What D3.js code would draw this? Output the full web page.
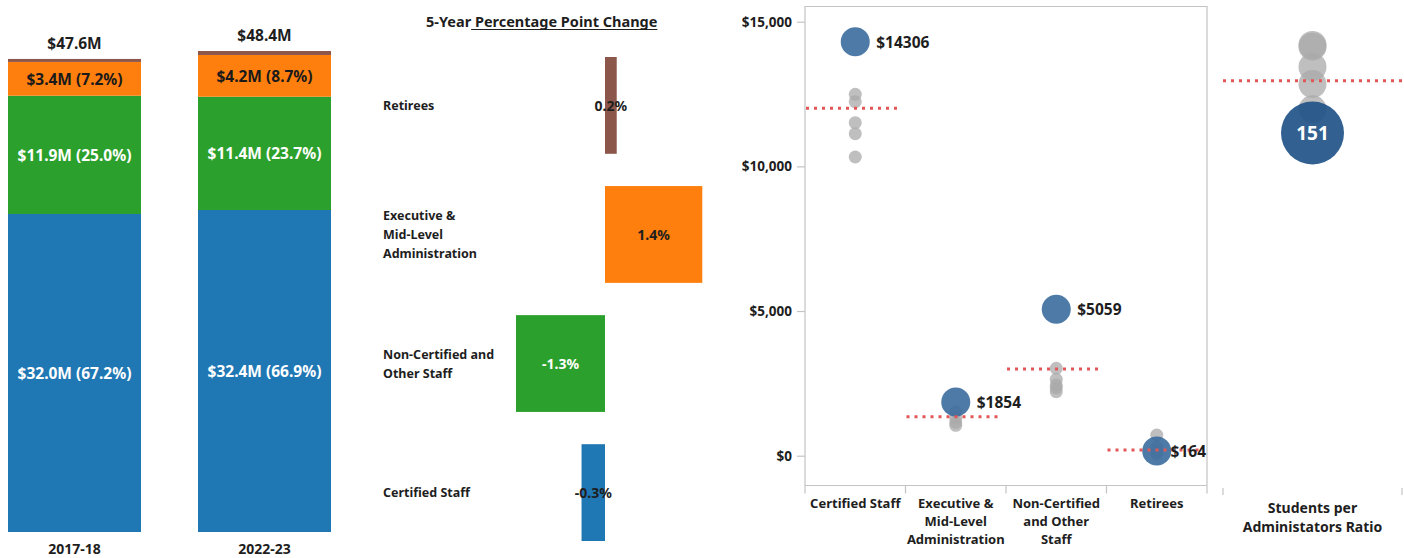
<!DOCTYPE html>
<html>
<head>
<meta charset="utf-8">
<script src="https://cdn.jsdelivr.net/npm/d3@7"></script>
<style>
  body { margin: 0; background: #fff; }
  svg { display: block; font-family: "Noto Sans", sans-serif; font-weight: 700; }
</style>
</head>
<body>
<svg id="chart" width="1404" height="558"></svg>
<script>
// stacked spending bars
const years = ['2017-18', '2022-23'];
const groups = ['Certified Staff', 'Non-Certified and Other Staff', 'Executive & Mid-Level Administration', 'Retirees'];
const spend1718 = [32.0, 11.9, 3.4, 0.3];
const spend2223 = [32.4, 11.4, 4.2, 0.4];
const share1718 = [67.2, 25.0, 7.2, 0.6];
const share2223 = [66.9, 23.7, 8.7, 0.7];
const totals = [47.6, 48.4];

// 5-year percentage point change
const changeCats = ['Retirees', 'Executive & Mid-Level Administration', 'Non-Certified and Other Staff', 'Certified Staff'];
const changeLines = [['Retirees'], ['Executive &', 'Mid-Level', 'Administration'], ['Non-Certified and', 'Other Staff'], ['Certified Staff']];
const ppChange = [0.17, 1.41, -1.29, -0.34];

// per pupil spending, district vs peers
const perPupilCats = ['Certified Staff', 'Executive & Mid-Level Administration', 'Non-Certified and Other Staff', 'Retirees'];
const perPupilLines = [['Certified Staff'], ['Executive &', 'Mid-Level', 'Administration'], ['Non-Certified', 'and Other', 'Staff'], ['Retirees']];
const districtPerPupil = [14306, 1854, 5059, 164];
const peerPerPupil = [
  [12491, 12235, 11509, 11129, 10324],
  [1521, 1300, 1150, 1050],
  [3020, 2640, 2445, 2340, 2212],
  [715, 300, 150, 60]
];
const peerAvg = [12007, 1348, 2997, 197];

// students per administrators
const districtRatio = 151;
const peerRatios = [259, 257, 232, 211, 180];
const peerRatioAvg = 215;

const colors = d3.scaleOrdinal().domain(groups).range(['#1f77b4', '#2ca02c', '#ff7f0e', '#8c564b']);
const labelFill = {'Certified Staff': '#fff', 'Non-Certified and Other Staff': '#fff', 'Executive & Mid-Level Administration': '#1a1a1a', 'Retirees': '#1a1a1a'};
const ink = '#1e1e1e';
const red = '#e15759';
const frame = '#c4c4c4';

const svg = d3.select('#chart');

// ---------- stacked bars ----------
const rows = years.map((yr, i) => {
  const o = {year: yr};
  const v = i === 0 ? spend1718 : spend2223;
  const s = i === 0 ? share1718 : share2223;
  groups.forEach((g, j) => { o[g] = v[j]; o[g + '_s'] = s[j]; });
  return o;
});
const stacked = d3.stack().keys(groups)(rows);

const xYear = d3.scaleBand().domain(years).range([8, 331]).paddingInner(0.3).paddingOuter(0);
const ySpend = d3.scaleLinear().domain([0, 48.4]).range([532, 51]);

const gBars = svg.append('g');
stacked.forEach(layer => {
  gBars.selectAll(null)
    .data(layer)
    .enter().append('rect')
    .attr('x', d => xYear(d.data.year))
    .attr('y', d => ySpend(d[1]))
    .attr('width', xYear.bandwidth())
    .attr('height', d => ySpend(d[0]) - ySpend(d[1]))
    .attr('fill', colors(layer.key));

  gBars.selectAll(null)
    .data(layer.filter(d => ySpend(d[0]) - ySpend(d[1]) > 20))
    .enter().append('text')
    .attr('x', d => xYear(d.data.year) + xYear.bandwidth() / 2)
    .attr('y', d => (ySpend(d[0]) + ySpend(d[1])) / 2)
    .attr('text-anchor', 'middle')
    .attr('dominant-baseline', 'central')
    .attr('font-size', 15.5)
    .attr('fill', labelFill[layer.key])
    .text(d => `$${d.data[layer.key].toFixed(1)}M (${d.data[layer.key + '_s'].toFixed(1)}%)`);
});

gBars.selectAll('.total')
  .data(years)
  .enter().append('text')
  .attr('x', d => xYear(d) + xYear.bandwidth() / 2)
  .attr('y', (d, i) => ySpend(totals[i]) - 16)
  .attr('text-anchor', 'middle')
  .attr('dominant-baseline', 'central')
  .attr('font-size', 15.5)
  .attr('fill', ink)
  .text((d, i) => `$${totals[i].toFixed(1)}M`);

gBars.selectAll('.year')
  .data(years)
  .enter().append('text')
  .attr('x', d => xYear(d) + xYear.bandwidth() / 2)
  .attr('y', 548)
  .attr('text-anchor', 'middle')
  .attr('dominant-baseline', 'central')
  .attr('font-size', 14)
  .attr('fill', ink)
  .text(d => d);

// ---------- percentage point change ----------
const xChange = d3.scaleLinear().domain([-1.5, 1.5]).range([501.5, 708.5]);
const yChange = d3.scaleBand().domain(changeCats).range([57, 541]).paddingInner(0.25).paddingOuter(0);
const changeColor = {'Retirees': '#8c564b', 'Executive & Mid-Level Administration': '#ff7f0e', 'Non-Certified and Other Staff': '#2ca02c', 'Certified Staff': '#1f77b4'};

const gChange = svg.append('g');
const title = gChange.append('text')
  .attr('x', 426).attr('y', 27)
  .attr('font-size', 14.5)
  .attr('fill', ink);
title.append('tspan').text('5-Year');
title.append('tspan').text(' Percentage Point Change');
const tNode = title.node();
const uStart = 426 + tNode.getSubStringLength(0, 6);
const uEnd = 426 + tNode.getComputedTextLength();
gChange.append('line')
  .attr('x1', uStart).attr('x2', uEnd)
  .attr('y1', 29.5).attr('y2', 29.5)
  .attr('stroke', ink).attr('stroke-width', 1.2);

gChange.selectAll('rect')
  .data(changeCats)
  .enter().append('rect')
  .attr('x', (d, i) => xChange(Math.min(0, ppChange[i])))
  .attr('y', d => yChange(d))
  .attr('width', (d, i) => Math.abs(xChange(ppChange[i]) - xChange(0)))
  .attr('height', yChange.bandwidth())
  .attr('fill', d => changeColor[d]);

gChange.selectAll('.val')
  .data(changeCats)
  .enter().append('text')
  .attr('x', (d, i) => (xChange(ppChange[i]) + xChange(0)) / 2)
  .attr('y', d => yChange(d) + yChange.bandwidth() / 2)
  .attr('text-anchor', 'middle')
  .attr('dominant-baseline', 'central')
  .attr('font-size', 14)
  .attr('fill', d => d === 'Non-Certified and Other Staff' ? '#fff' : ink)
  .text((d, i) => ppChange[i].toFixed(1) + '%');

changeCats.forEach((c, i) => {
  const lines = changeLines[i];
  const cy = yChange(c) + yChange.bandwidth() / 2;
  gChange.append('text')
    .attr('font-size', 12.5)
    .attr('fill', ink)
    .selectAll('tspan')
    .data(lines)
    .enter().append('tspan')
    .attr('x', 383)
    .attr('y', (d, k) => cy + (k - (lines.length - 1) / 2) * 19)
    .attr('dominant-baseline', 'central')
    .text(d => d);
});

// ---------- per pupil scatter ----------
const xPP = d3.scaleBand().domain(perPupilCats).range([805, 1207]);
const yPP = d3.scaleLinear().domain([0, 15000]).range([455.7, 21.7]);
const plotTop = 6.5, plotBottom = 485.5;

const gPP = svg.append('g');
gPP.append('path')
  .attr('d', `M805,${plotBottom}V${plotTop}H1207V${plotBottom}`)
  .attr('fill', 'none').attr('stroke', frame).attr('stroke-width', 1.2);
gPP.append('line')
  .attr('x1', 805).attr('x2', 1207).attr('y1', plotBottom).attr('y2', plotBottom)
  .attr('stroke', frame).attr('stroke-width', 1.2);
const bounds = perPupilCats.map(c => xPP(c)).concat([xPP.range()[1]]);
gPP.selectAll('.btick')
  .data(bounds)
  .enter().append('line')
  .attr('x1', d => d).attr('x2', d => d)
  .attr('y1', plotBottom).attr('y2', plotBottom + 8)
  .attr('stroke', frame).attr('stroke-width', 1.2);

const yAxis = gPP.append('g')
  .attr('transform', 'translate(805,0)')
  .call(d3.axisLeft(yPP).tickValues([0, 5000, 10000, 15000]).tickSize(8).tickPadding(5)
    .tickFormat(d => '$' + d3.format(',')(d)));
yAxis.select('.domain').remove();
yAxis.selectAll('line').attr('stroke', frame).attr('stroke-width', 1.2);
yAxis.selectAll('text')
  .attr('font-family', '"Noto Sans", sans-serif')
  .attr('font-weight', 700)
  .attr('font-size', 13.5)
  .attr('fill', ink);

perPupilCats.forEach((c, i) => {
  const lines = perPupilLines[i];
  gPP.append('text')
    .attr('font-size', 13)
    .attr('fill', ink)
    .attr('text-anchor', 'middle')
    .selectAll('tspan')
    .data(lines)
    .enter().append('tspan')
    .attr('x', xPP(c) + xPP.bandwidth() / 2)
    .attr('y', (d, k) => 503 + k * 18)
    .attr('dominant-baseline', 'central')
    .text(d => d);
});

const peerFlat = peerPerPupil.flatMap((vals, i) => vals.map(v => ({cat: perPupilCats[i], v})));
gPP.selectAll('.peer')
  .data(peerFlat)
  .enter().append('circle')
  .attr('cx', d => xPP(d.cat) + xPP.bandwidth() / 2)
  .attr('cy', d => yPP(d.v))
  .attr('r', 6.5)
  .attr('fill', '#aaaaaa')
  .attr('fill-opacity', 0.75);

gPP.selectAll('.dist')
  .data(perPupilCats)
  .enter().append('circle')
  .attr('cx', d => xPP(d) + xPP.bandwidth() / 2)
  .attr('cy', (d, i) => yPP(districtPerPupil[i]))
  .attr('r', 14.5)
  .attr('fill', '#3a6b9c')
  .attr('fill-opacity', 0.9);

gPP.selectAll('.avg')
  .data(perPupilCats)
  .enter().append('line')
  .attr('x1', d => xPP(d) + 1)
  .attr('x2', d => xPP(d) + xPP.bandwidth() - 4)
  .attr('y1', (d, i) => yPP(peerAvg[i]))
  .attr('y2', (d, i) => yPP(peerAvg[i]))
  .attr('stroke', red)
  .attr('stroke-width', 3)
  .attr('stroke-dasharray', '3,5');

gPP.selectAll('.lab')
  .data(perPupilCats)
  .enter().append('text')
  .attr('y', (d, i) => yPP(districtPerPupil[i]))
  .attr('dominant-baseline', 'central')
  .attr('font-size', 15.5)
  .attr('fill', ink)
  .text((d, i) => '$' + districtPerPupil[i])
  .attr('x', function (d) {
    const w = this.getComputedTextLength();
    return Math.min(xPP(d) + xPP.bandwidth() / 2 + 21, 1206 - w);
  });

// ---------- students per administrators ----------
const xRatio = d3.scaleBand().domain(['Students per Administators Ratio']).range([1223, 1402]);
const yRatio = d3.scaleLinear().domain([151, 259]).range([133, 45]);
const rcx = xRatio('Students per Administators Ratio') + xRatio.bandwidth() / 2;

const gR = svg.append('g');
gR.selectAll('.rtick')
  .data(xRatio.range())
  .enter().append('line')
  .attr('x1', d => d).attr('x2', d => d)
  .attr('y1', 488).attr('y2', 495)
  .attr('stroke', frame).attr('stroke-width', 1.2);

gR.selectAll('.rpeer')
  .data(peerRatios)
  .enter().append('circle')
  .attr('cx', rcx)
  .attr('cy', d => yRatio(d))
  .attr('r', 14)
  .attr('fill', '#aaaaaa')
  .attr('fill-opacity', 0.75);

gR.append('circle')
  .attr('cx', rcx)
  .attr('cy', yRatio(districtRatio))
  .attr('r', 31.5)
  .attr('fill', '#1f5288')
  .attr('fill-opacity', 0.92);

gR.append('line')
  .attr('x1', 1223).attr('x2', 1404)
  .attr('y1', yRatio(peerRatioAvg)).attr('y2', yRatio(peerRatioAvg))
  .attr('stroke', red)
  .attr('stroke-width', 3)
  .attr('stroke-dasharray', '3,5');

gR.append('text')
  .attr('x', rcx)
  .attr('y', yRatio(districtRatio))
  .attr('text-anchor', 'middle')
  .attr('dominant-baseline', 'central')
  .attr('font-size', 19)
  .attr('fill', '#fff')
  .text(districtRatio);

gR.append('text')
  .attr('font-size', 14)
  .attr('fill', ink)
  .attr('text-anchor', 'middle')
  .selectAll('tspan')
  .data(['Students per', 'Administators Ratio'])
  .enter().append('tspan')
  .attr('x', rcx)
  .attr('y', (d, k) => 507 + k * 19)
  .attr('dominant-baseline', 'central')
  .text(d => d);
</script>
</body>
</html>
